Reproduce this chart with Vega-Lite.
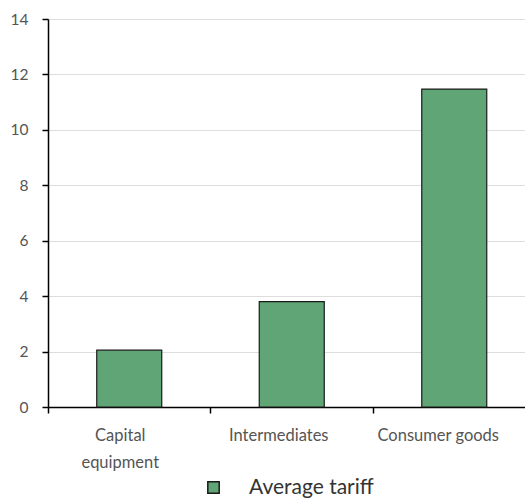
{
  "$schema": "https://vega.github.io/schema/vega-lite/v6.json",
  "autosize": {"type": "none"},
  "width": 477,
  "height": 388,
  "padding": {"left": 48, "top": 19, "right": 0, "bottom": 91},
  "background": "white",
  "data": {"values": [
    {"category": "Capital equipment", "tariff": 2.05, "series": "Average tariff"},
    {"category": "Intermediates", "tariff": 3.8, "series": "Average tariff"},
    {"category": "Consumer goods", "tariff": 11.47, "series": "Average tariff"}
  ]},
  "mark": {"type": "bar", "width": {"band": 0.4}, "stroke": "#1a1a1a", "strokeWidth": 1.2},
  "encoding": {
    "x": {
      "field": "category", "type": "nominal", "sort": null,
      "scale": {"paddingInner": 0, "paddingOuter": 0, "range": [0, 487.5]},
      "axis": {
        "title": null, "bandPosition": 0, "labelAngle": 0,
        "domainColor": "#000", "domainWidth": 1.5,
        "tickColor": "#000", "tickWidth": 1.5, "tickSize": 6,
        "labelOffset": {"condition": [
          {"test": "datum.value == 'Capital equipment'", "value": -9},
          {"test": "datum.value == 'Intermediates'", "value": -13}
        ], "value": -16},
        "labelPadding": 14,
        "labelFont": "Lato", "labelFontSize": 16.5, "labelColor": "#555",
        "labelLineHeight": 27, "labelBaseline": "top",
        "labelExpr": "datum.value == 'Capital equipment' ? ['Capital', 'equipment'] : datum.value",
        "grid": false
      }
    },
    "y": {
      "field": "tariff", "type": "quantitative",
      "scale": {"domain": [0, 14]},
      "axis": {
        "title": null, "values": [0, 2, 4, 6, 8, 10, 12, 14],
        "domainColor": "#000", "domainWidth": 1.5,
        "tickColor": "#000", "tickWidth": 1.5, "tickSize": 6,
        "labelFont": "Lato", "labelFontSize": 15.5, "labelColor": "#555",
        "labelPadding": 14,
        "grid": true, "gridColor": "#dddddd", "gridWidth": 1
      }
    },
    "color": {
      "field": "series", "type": "nominal",
      "scale": {"range": ["#60a575"]},
      "legend": {
        "title": null, "orient": "none", "legendX": 155, "legendY": 458,
        "symbolType": "square", "symbolSize": 130, "symbolStrokeColor": "#1a1a1a",
        "symbolStrokeWidth": 1.5, "symbolFillColor": "#60a575",
        "labelFont": "Lato", "labelFontSize": 21, "labelColor": "#333",
        "labelOffset": 25
      }
    }
  },
  "config": {"view": {"stroke": null}}
}
